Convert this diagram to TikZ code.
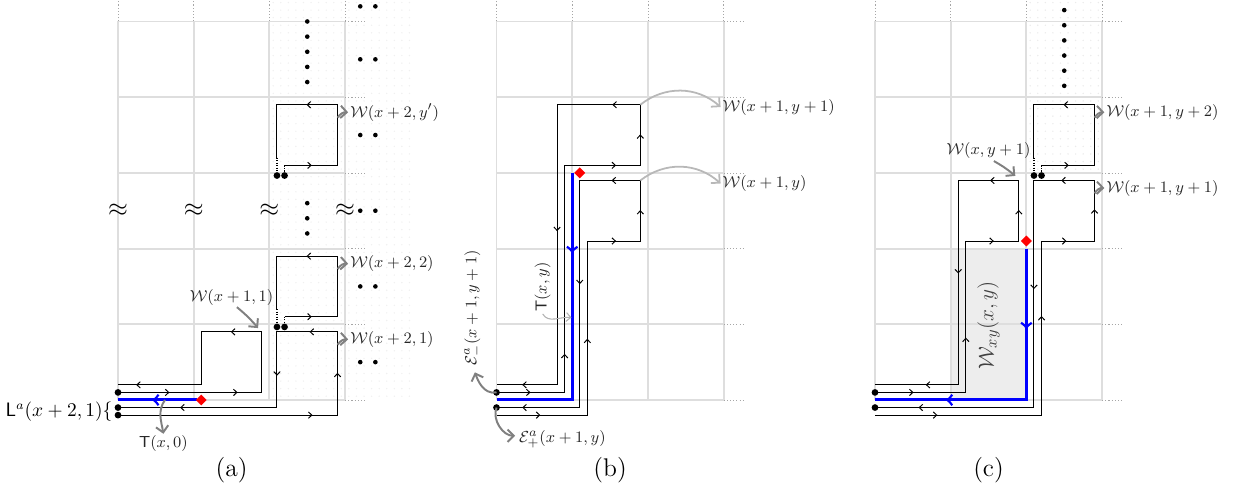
\documentclass[tikz,border=0pt]{standalone}
\usetikzlibrary{arrows.meta}
\tikzset{
 gridl/.style={draw=black!13, line width=1.1pt},
 ext/.style={draw=black!35, line width=0.4pt, dash pattern=on 0.6pt off 1.2pt},
 loopl/.style={draw=black, line width=0.55pt},
 dotl/.style={draw=black, line width=0.7pt, dash pattern=on 0.7pt off 0.7pt},
 bluel/.style={draw=blue, line width=1.7pt},
 lab/.style={font=\fontsize{9.5}{11.5}\selectfont, text=black!85, inner sep=1pt},
 garr/.style={draw=black!50, line width=1.1pt, -{Straight Barb[length=3.5pt,width=7pt]}},
 lgarr/.style={draw=black!28, line width=1pt, -{Straight Barb[length=3.5pt,width=7pt]}},
 tarr/.style={draw=black!30, line width=0.6pt, -{Straight Barb[length=2.5pt,width=5pt]}},
 captxt/.style={font=\Large},
}
\newcommand\mk[2]{\draw[black, line width=0.55pt, shift={(#1)}, rotate=#2] (-0.045,0.042) .. controls (-0.02,0.012) .. (0,0) .. controls (-0.02,-0.012) .. (-0.045,-0.042);}
\newcommand\bmk[2]{\draw[blue, line width=1.2pt, shift={(#1)}, rotate=#2] (-0.065,0.07) .. controls (-0.028,0.02) .. (0,0) .. controls (-0.028,-0.02) .. (-0.065,-0.07);}
\newcommand\rdiam[1]{\fill[red] (#1) +(0.072,0) -- +(0,0.072) -- +(-0.072,0) -- +(0,-0.072) -- cycle;}
\newcommand\pgrid{%
 \foreach \x in {0,...,3}{\draw[gridl] (\x,0)--(\x,5); \draw[ext] (\x,5)--(\x,5.3);}
 \foreach \y in {0,...,5}{\draw[gridl] (0,\y)--(3,\y); \draw[ext] (3,\y)--(3.27,\y);}}
\newcommand\smallloop[1]{% bottom y of cell
 \begin{scope}[shift={(0,#1)}]
 \draw[loopl] (2.1,0.2) -- (2.1,0.9) -- (2.9,0.9) -- (2.9,0.1) -- (2.2,0.1);
 \draw[dotl] (2.1,0.2) -- (2.1,-0.03) (2.2,0.1) -- (2.2,-0.03);
 \fill (2.1,-0.035) circle (1.9pt) (2.2,-0.035) circle (1.9pt);
 \mk{2.5,0.9}{180} \mk{2.55,0.1}{0}
 \end{scope}}
\begin{document}
\begin{tikzpicture}[x=1.5cm,y=1.5cm]
\useasboundingbox (-1.559,-1.281) rectangle (14.835,5.284);

% ================= panel (a)
\begin{scope}
\foreach \i in {0,...,18} \foreach \j in {0,...,52} \fill[black!6] (2.05+0.1*\i,0.05+0.1*\j) circle (0.45pt);
\pgrid
\foreach \x/\n in {0/1,1/2,2/3,3/4} \node[font=\Large, inner sep=0pt] (ap\n) at (\x,2.5) {$\approx$};
\foreach \y in {5.0,4.8,4.6,4.4,4.2,2.6,2.4,2.2} \fill (2.5,\y) circle (1.3pt);
\foreach \y in {0.5,1.5,2.5,3.5,4.5,5.2} {\fill (3.2,\y) circle (1.3pt); \fill (3.4,\y) circle (1.3pt);}
\smallloop{3}
\smallloop{1}
\draw[loopl] (0,-0.2) -- (2.9,-0.2) -- (2.9,0.9) -- (2.1,0.9) -- (2.1,-0.1) -- (0,-0.1);
\mk{2.56,-0.2}{0} \mk{2.9,0.35}{90} \mk{2.54,0.9}{180} \mk{2.1,0.33}{-90} \mk{0.83,-0.1}{180}
\draw[loopl] (0,0.1) -- (1.9,0.1) -- (1.9,0.9) -- (1.1,0.9) -- (1.1,0.2) -- (0,0.2);
\mk{0.67,0.1}{0} \mk{1.57,0.1}{0} \mk{1.5,0.9}{180} \mk{0.25,0.2}{180}
\draw[bluel] (1.05,0) -- (0,0);
\bmk{0.47,0}{180}
\rdiam{1.1,0}
\fill (0,0.1) circle (1.9pt) (0,-0.1) circle (1.9pt) (0,-0.2) circle (1.9pt);
\node[lab, anchor=west] (wa1) at (3.04,3.8) {$\mathcal{W}(x+2,y')$};
\coordinate (sa1) at (2.9,3.73);
\draw[garr] (sa1) to[bend left=30] (wa1.west);
\node[lab, anchor=west] (wa2) at (3.04,1.8) {$\mathcal{W}(x+2,2)$};
\coordinate (sa2) at (2.9,1.73);
\draw[garr] (sa2) to[bend left=30] (wa2.west);
\node[lab, anchor=west] (wa3) at (3.04,0.8) {$\mathcal{W}(x+2,1)$};
\coordinate (sa3) at (2.9,0.73);
\draw[garr] (sa3) to[bend left=30] (wa3.west);
\node[lab] (wa4) at (1.5,1.36) {$\mathcal{W}(x+1,1)$};
\coordinate (ta4) at (1.85,0.95);
\draw[garr] ([xshift=3pt]wa4.south) to[bend left=5] (ta4);
\node[lab] (t0) at (0.6,-0.58) {$\mathsf{T}(x,0)$};
\coordinate (st0) at (0.62,0);
\draw[garr] (st0) to[out=235,in=100] (t0.north);
\node[font=\fontsize{10.6}{13}\selectfont, anchor=east, inner sep=0pt] (la) at (-0.07,-0.155) {$\mathsf{L}^a(x+2,1)\{$};
\node[captxt] (capa) at (1.5,-0.93) {(a)};
\end{scope}

% ================= panel (b)
\begin{scope}[shift={(5,0)}]
\pgrid
\draw[loopl] (0,0.1) -- (0.9,0.1) -- (0.9,3.1) -- (1.9,3.1) -- (1.9,3.9) -- (0.8,3.9) -- (0.8,0.2) -- (0,0.2);
\mk{0.44,0.1}{0} \mk{0.9,0.6}{90} \mk{1.57,3.1}{0} \mk{1.9,3.5}{90} \mk{1.54,3.9}{180} \mk{0.8,2.24}{-90} \mk{0.35,0.2}{180}
\draw[loopl] (0,-0.2) -- (1.2,-0.2) -- (1.2,2.1) -- (1.9,2.1) -- (1.9,2.9) -- (1.1,2.9) -- (1.1,-0.1) -- (0,-0.1);
\mk{0.57,-0.2}{0} \mk{1.2,0.8}{90} \mk{1.57,2.1}{0} \mk{1.9,2.5}{90} \mk{1.53,2.9}{180} \mk{1.1,1.54}{-90} \mk{0.35,-0.1}{180}
\draw[bluel] (1,3) -- (1,0) -- (0,0);
\bmk{1,1.96}{-90}
\rdiam{1.1,3.0}
\fill (0,0.1) circle (1.9pt) (0,-0.1) circle (1.9pt);
\node[lab, anchor=west] (wb1) at (2.96,3.87) {$\mathcal{W}(x+1,y+1)$};
\coordinate (sb1) at (1.9,3.9);
\draw[lgarr] (sb1) to[bend left=40] (wb1.west);
\node[lab, anchor=west] (wb2) at (2.96,2.86) {$\mathcal{W}(x+1,y)$};
\coordinate (sb2) at (1.9,2.9);
\draw[lgarr] (sb2) to[bend left=40] (wb2.west);
\node[lab, rotate=90] (tb) at (0.61,1.49) {$\mathsf{T}(x,y)$};
\coordinate (ttb) at (0.99,1.09);
\draw[tarr] (tb.west) to[out=-60,in=175] (ttb);
\node[lab, rotate=90] (em) at (-0.31,1.22) {$\mathcal{E}^a_-(x+1,y+1)$};
\coordinate (dm) at (0,0.1);
\draw[garr, shorten >=3pt] (dm) to[out=190,in=-70] (em.west);
\node[lab] (ep) at (0.87,-0.52) {$\mathcal{E}^a_+(x+1,y)$};
\coordinate (dp) at (0,-0.1);
\draw[garr, shorten >=1pt] (dp) to[out=-110,in=180] ([yshift=2pt]ep.west);
\node[captxt] (capb) at (1.5,-0.93) {(b)};
\end{scope}

% ================= panel (c)
\begin{scope}[shift={(10,0)}]
\fill[black!7] (1,0) rectangle (2,2);
\foreach \i in {0,...,9} \foreach \j in {0,...,22} \fill[black!8] (2.05+0.1*\i,3.05+0.1*\j) circle (0.45pt);
\pgrid
\foreach \y in {5.15,4.95,4.75,4.55,4.35,4.15} \fill (2.5,\y) circle (1.3pt);
\smallloop{3}
\draw[loopl] (0,-0.2) -- (2.2,-0.2) -- (2.2,2.1) -- (2.9,2.1) -- (2.9,2.9) -- (2.1,2.9) -- (2.1,-0.1) -- (0,-0.1);
\mk{0.815,-0.2}{0} \mk{2.2,1.1}{90} \mk{2.52,2.1}{0} \mk{2.9,2.51}{90} \mk{2.47,2.9}{180} \mk{2.1,1.475}{-90} \mk{0.585,-0.1}{180}
\draw[loopl] (0,0.1) -- (1.2,0.1) -- (1.2,2.1) -- (1.9,2.1) -- (1.9,2.9) -- (1.1,2.9) -- (1.1,0.2) -- (0,0.2);
\mk{0.5,0.1}{0} \mk{1.2,0.815}{90} \mk{1.56,2.1}{0} \mk{1.9,2.5}{90} \mk{1.53,2.9}{180} \mk{1.1,1.68}{-90} \mk{0.68,0.2}{180}
\draw[bluel] (2,2) -- (2,0) -- (0,0);
\bmk{2,0.955}{-90} \bmk{0.955,0}{180}
\rdiam{2,2.1}
\fill (0,0.1) circle (1.9pt) (0,-0.1) circle (1.9pt);
\node[lab, anchor=west] (wc1) at (3.03,3.8) {$\mathcal{W}(x+1,y+2)$};
\coordinate (sc1) at (2.9,3.73);
\draw[garr] (sc1) to[bend left=30] (wc1.west);
\node[lab, anchor=west] (wc2) at (3.03,2.8) {$\mathcal{W}(x+1,y+1)$};
\coordinate (sc2) at (2.9,2.73);
\draw[garr] (sc2) to[bend left=30] (wc2.west);
\node[lab] (wc3) at (1.5,3.29) {$\mathcal{W}(x,y+1)$};
\coordinate (tc3) at (1.854,2.96);
\draw[garr] ([xshift=3pt]wc3.south) to[bend left=5] (tc3);
\node[font=\fontsize{12.5}{15}\selectfont, text=black!75, rotate=90] (wxy) at (1.5,0.99) {$\mathcal{W}_{xy}(x,y)$};
\node[captxt] (capc) at (1.5,-0.93) {(c)};
\end{scope}
\end{tikzpicture}
\end{document}
